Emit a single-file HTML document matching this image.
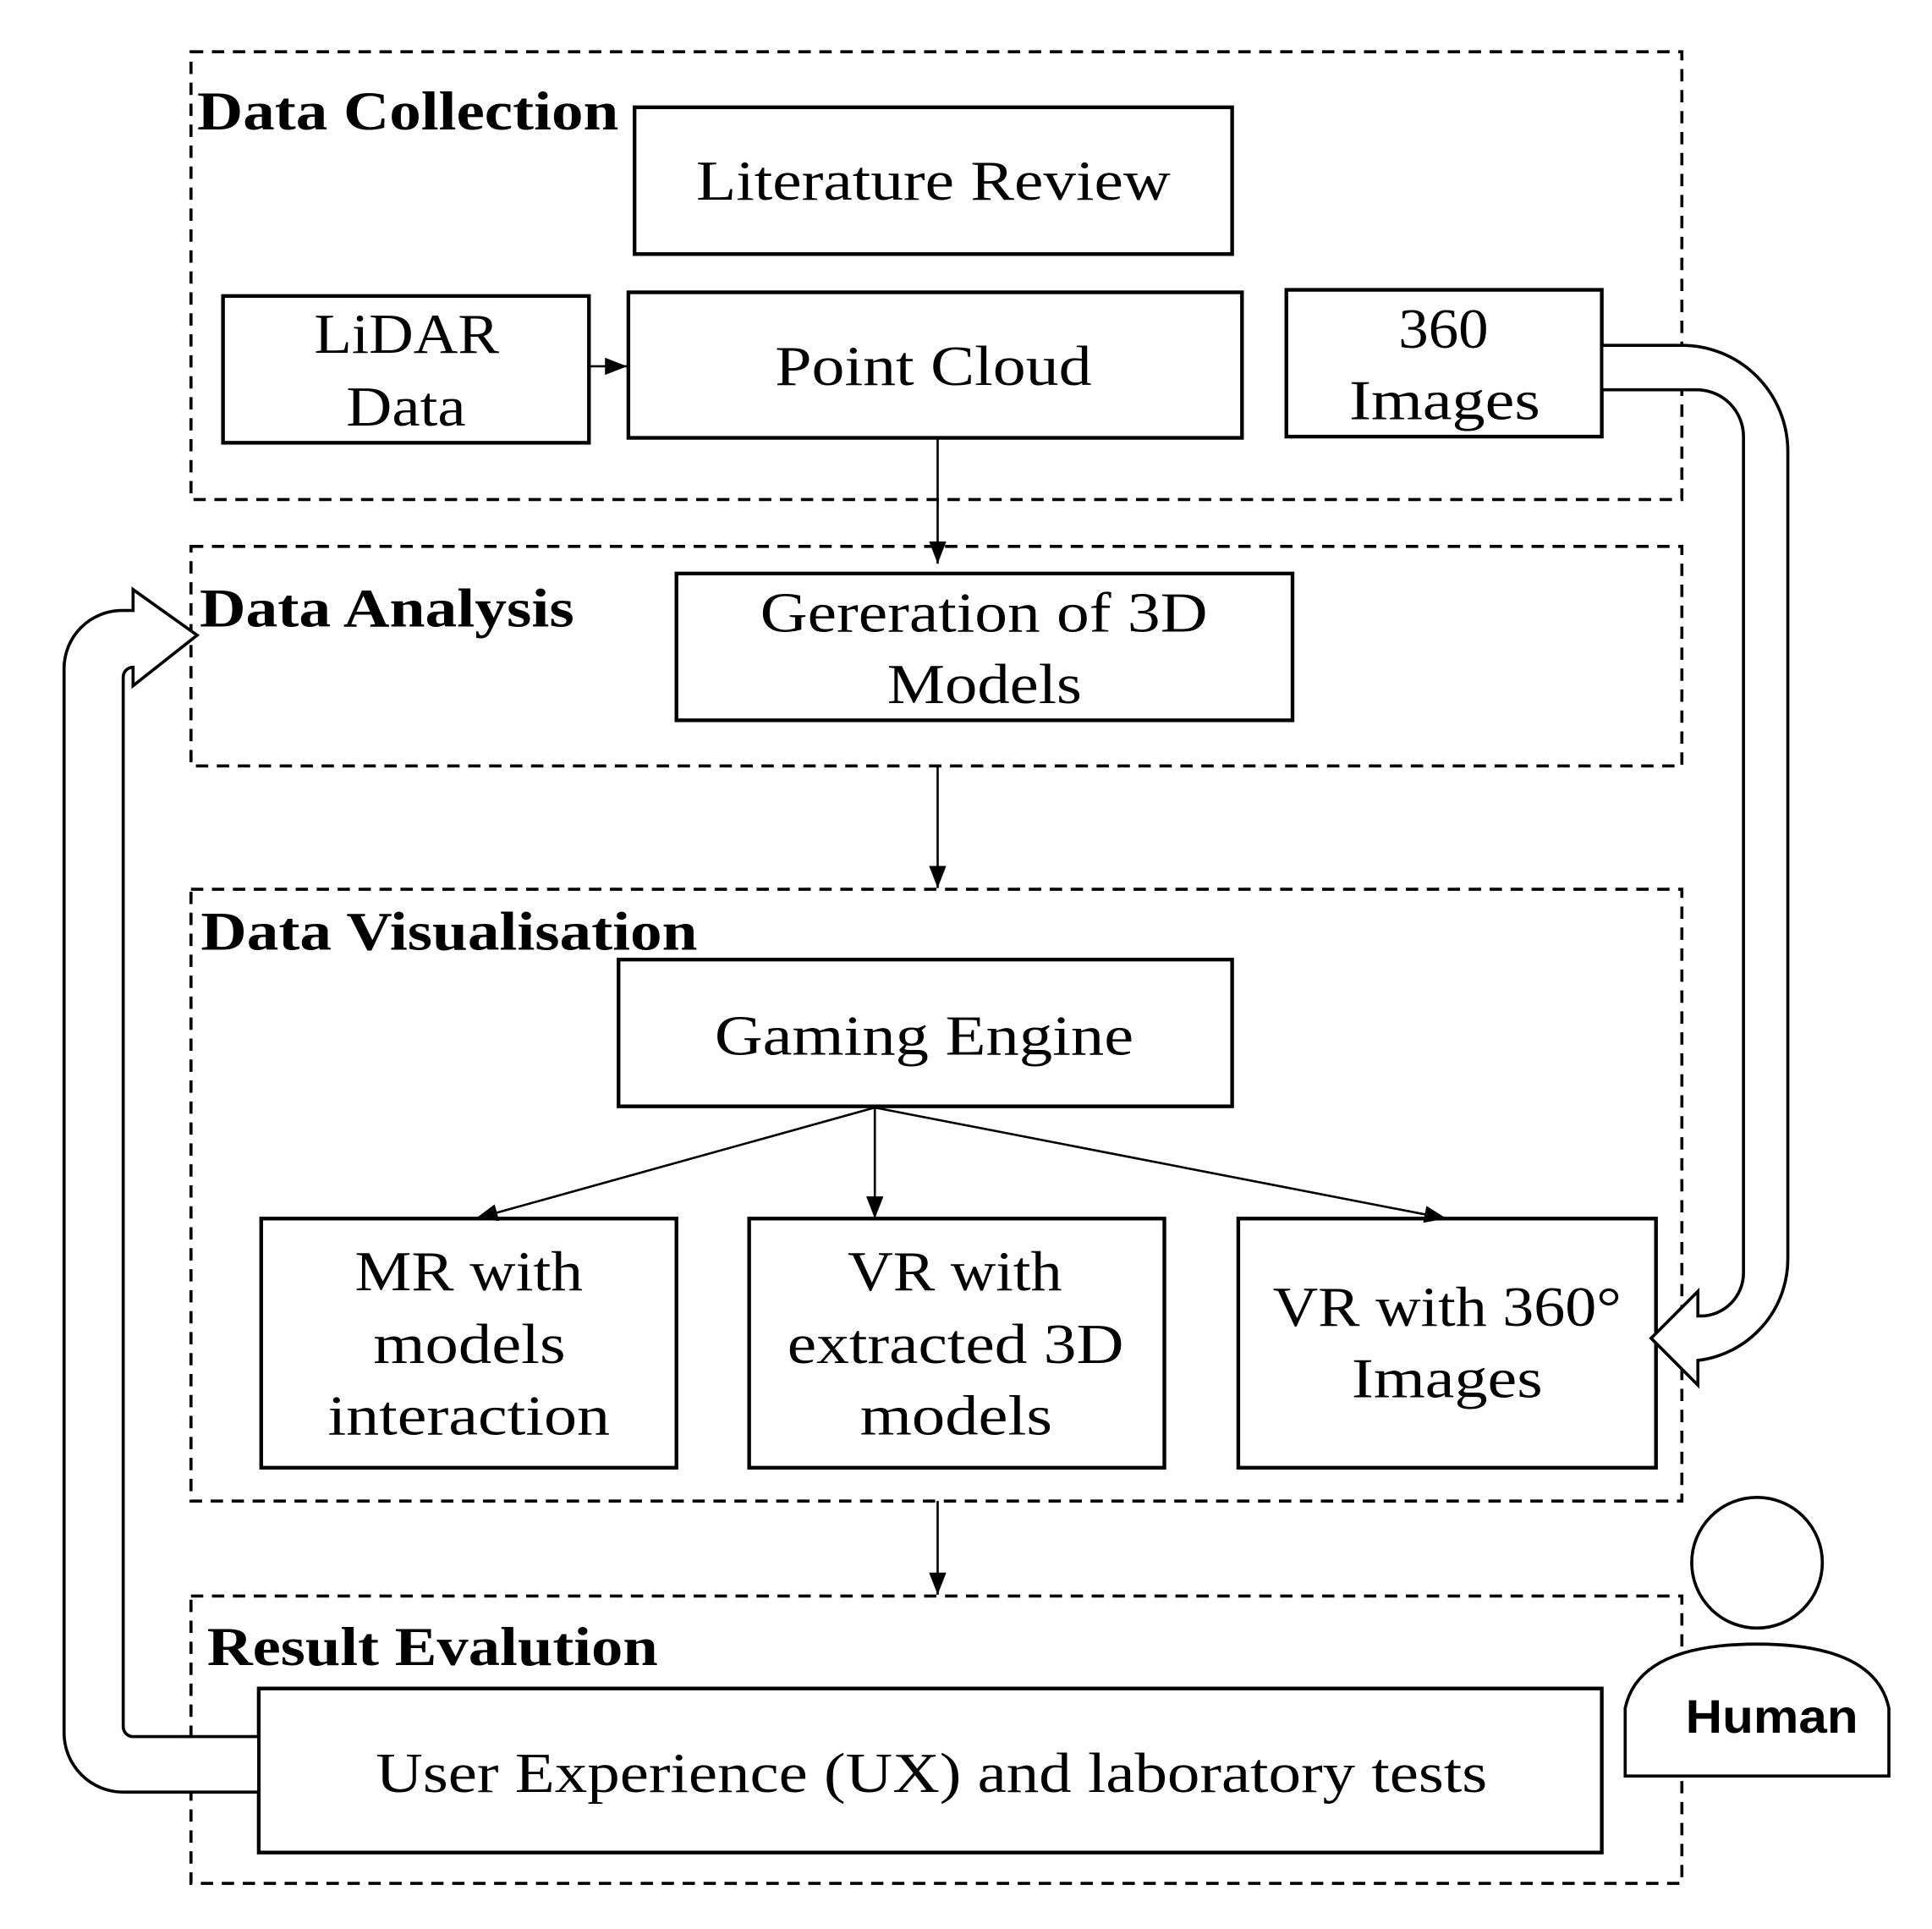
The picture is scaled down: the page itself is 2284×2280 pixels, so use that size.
<!DOCTYPE html>
<html><head><meta charset="utf-8"><style>
html,body{margin:0;padding:0;background:#fff;}
svg{display:block;}
text{font-family:"Liberation Serif",serif;fill:#000;}
.t{font-size:46px;}
.h{font-size:44px;font-weight:bold;}
</style></head><body>
<svg width="2284" height="2280" viewBox="0 0 1568 1564" preserveAspectRatio="none" xmlns="http://www.w3.org/2000/svg">
<defs>
<marker id="b" markerWidth="18" markerHeight="14" refX="18" refY="7" orient="auto" markerUnits="userSpaceOnUse"><path d="M0,0 L18,7 L0,14 z" fill="#000"/></marker></defs>
<g fill="none" stroke="#000" stroke-width="2.5" stroke-dasharray="10,7">
<rect x="155" y="42" width="1210" height="363"/>
<rect x="155" y="443" width="1210" height="178"/>
<rect x="155" y="721" width="1210" height="496"/>
<rect x="155" y="1294" width="1210" height="233"/>
</g>
<g fill="#fff" stroke="#000" stroke-width="3">
<rect x="515" y="87" width="485" height="119"/>
<rect x="181" y="240" width="297" height="119"/>
<rect x="510" y="237" width="498" height="118"/>
<rect x="1044" y="235" width="256" height="119"/>
<rect x="549" y="465" width="500" height="119"/>
<rect x="502" y="778" width="498" height="119"/>
<rect x="212" y="988" width="337" height="202"/>
<rect x="608" y="988" width="337" height="202"/>
<rect x="1005" y="988" width="339" height="202"/>
<rect x="210" y="1369" width="1090" height="133"/>
</g>
<g stroke="#000" stroke-width="1.8" fill="none">
<line x1="478" y1="297" x2="509" y2="297" marker-end="url(#b)"/>
<line x1="761" y1="355" x2="761" y2="457" marker-end="url(#b)"/>
<line x1="761" y1="621" x2="761" y2="720" marker-end="url(#b)"/>
<line x1="710" y1="898" x2="386" y2="988" marker-end="url(#b)"/>
<line x1="710" y1="898" x2="710" y2="988" marker-end="url(#b)"/>
<line x1="710" y1="898" x2="1174" y2="988" marker-end="url(#b)"/>
<line x1="761" y1="1217" x2="761" y2="1293" marker-end="url(#b)"/>
</g>
<g fill="#fff" stroke="#000" stroke-width="2.5">
<path d="M1300,280 H1365 A86,86 0 0 1 1451,366 V1020 A83,83 0 0 1 1378,1103 V1123 L1340,1085 L1378,1047 V1067 H1380 A35,35 0 0 0 1415,1032 V354 A38,38 0 0 0 1377,316 H1300 Z"/>
<path d="M210,1453 H100 A48,48 0 0 1 52,1405 V542 A47,47 0 0 1 99,495 H108 V478 L160,515 L108,556 V541 A8,8 0 0 0 100,549 V1400 A8,8 0 0 0 108,1408 H210 Z"/>
<circle cx="1426" cy="1267" r="53"/>
<path d="M1319,1440 V1385 Q1330,1333 1426,1333 Q1522,1333 1533,1385 V1440 Z"/>
</g>
<text class="h" x="160" y="105" textLength="342" lengthAdjust="spacingAndGlyphs">Data Collection</text>
<text class="h" x="162" y="508" textLength="304" lengthAdjust="spacingAndGlyphs">Data Analysis</text>
<text class="h" x="163" y="770" textLength="403" lengthAdjust="spacingAndGlyphs">Data Visualisation</text>
<text class="h" x="168" y="1350" textLength="366" lengthAdjust="spacingAndGlyphs">Result Evalution</text>
<text class="t" x="565" y="162" textLength="385" lengthAdjust="spacingAndGlyphs">Literature Review</text>
<text class="t" x="255" y="286" textLength="150" lengthAdjust="spacingAndGlyphs">LiDAR</text>
<text class="t" x="281" y="345" textLength="97" lengthAdjust="spacingAndGlyphs">Data</text>
<text class="t" x="629" y="312" textLength="257" lengthAdjust="spacingAndGlyphs">Point Cloud</text>
<text class="t" x="1135" y="282" textLength="73" lengthAdjust="spacingAndGlyphs">360</text>
<text class="t" x="1095" y="340" textLength="155" lengthAdjust="spacingAndGlyphs">Images</text>
<text class="t" x="617" y="512" textLength="363" lengthAdjust="spacingAndGlyphs">Gereration of 3D</text>
<text class="t" x="720" y="570" textLength="158" lengthAdjust="spacingAndGlyphs">Models</text>
<text class="t" x="580" y="855" textLength="340" lengthAdjust="spacingAndGlyphs">Gaming Engine</text>
<text class="t" x="288" y="1046" textLength="185" lengthAdjust="spacingAndGlyphs">MR with</text>
<text class="t" x="303" y="1105" textLength="156" lengthAdjust="spacingAndGlyphs">models</text>
<text class="t" x="266" y="1163" textLength="229" lengthAdjust="spacingAndGlyphs">interaction</text>
<text class="t" x="688" y="1046" textLength="174" lengthAdjust="spacingAndGlyphs">VR with</text>
<text class="t" x="639" y="1105" textLength="273" lengthAdjust="spacingAndGlyphs">extracted 3D</text>
<text class="t" x="698" y="1163" textLength="156" lengthAdjust="spacingAndGlyphs">models</text>
<text class="t" x="1033" y="1075" textLength="283" lengthAdjust="spacingAndGlyphs">VR with 360°</text>
<text class="t" x="1097" y="1133" textLength="155" lengthAdjust="spacingAndGlyphs">Images</text>
<text class="t" x="305" y="1453" textLength="902" lengthAdjust="spacingAndGlyphs">User Experience (UX) and laboratory tests</text>
<text x="1368" y="1405" style="font-family:'Liberation Sans',sans-serif;font-weight:bold;font-size:38px" textLength="140" lengthAdjust="spacingAndGlyphs">Human</text>
</svg>
</body></html>
